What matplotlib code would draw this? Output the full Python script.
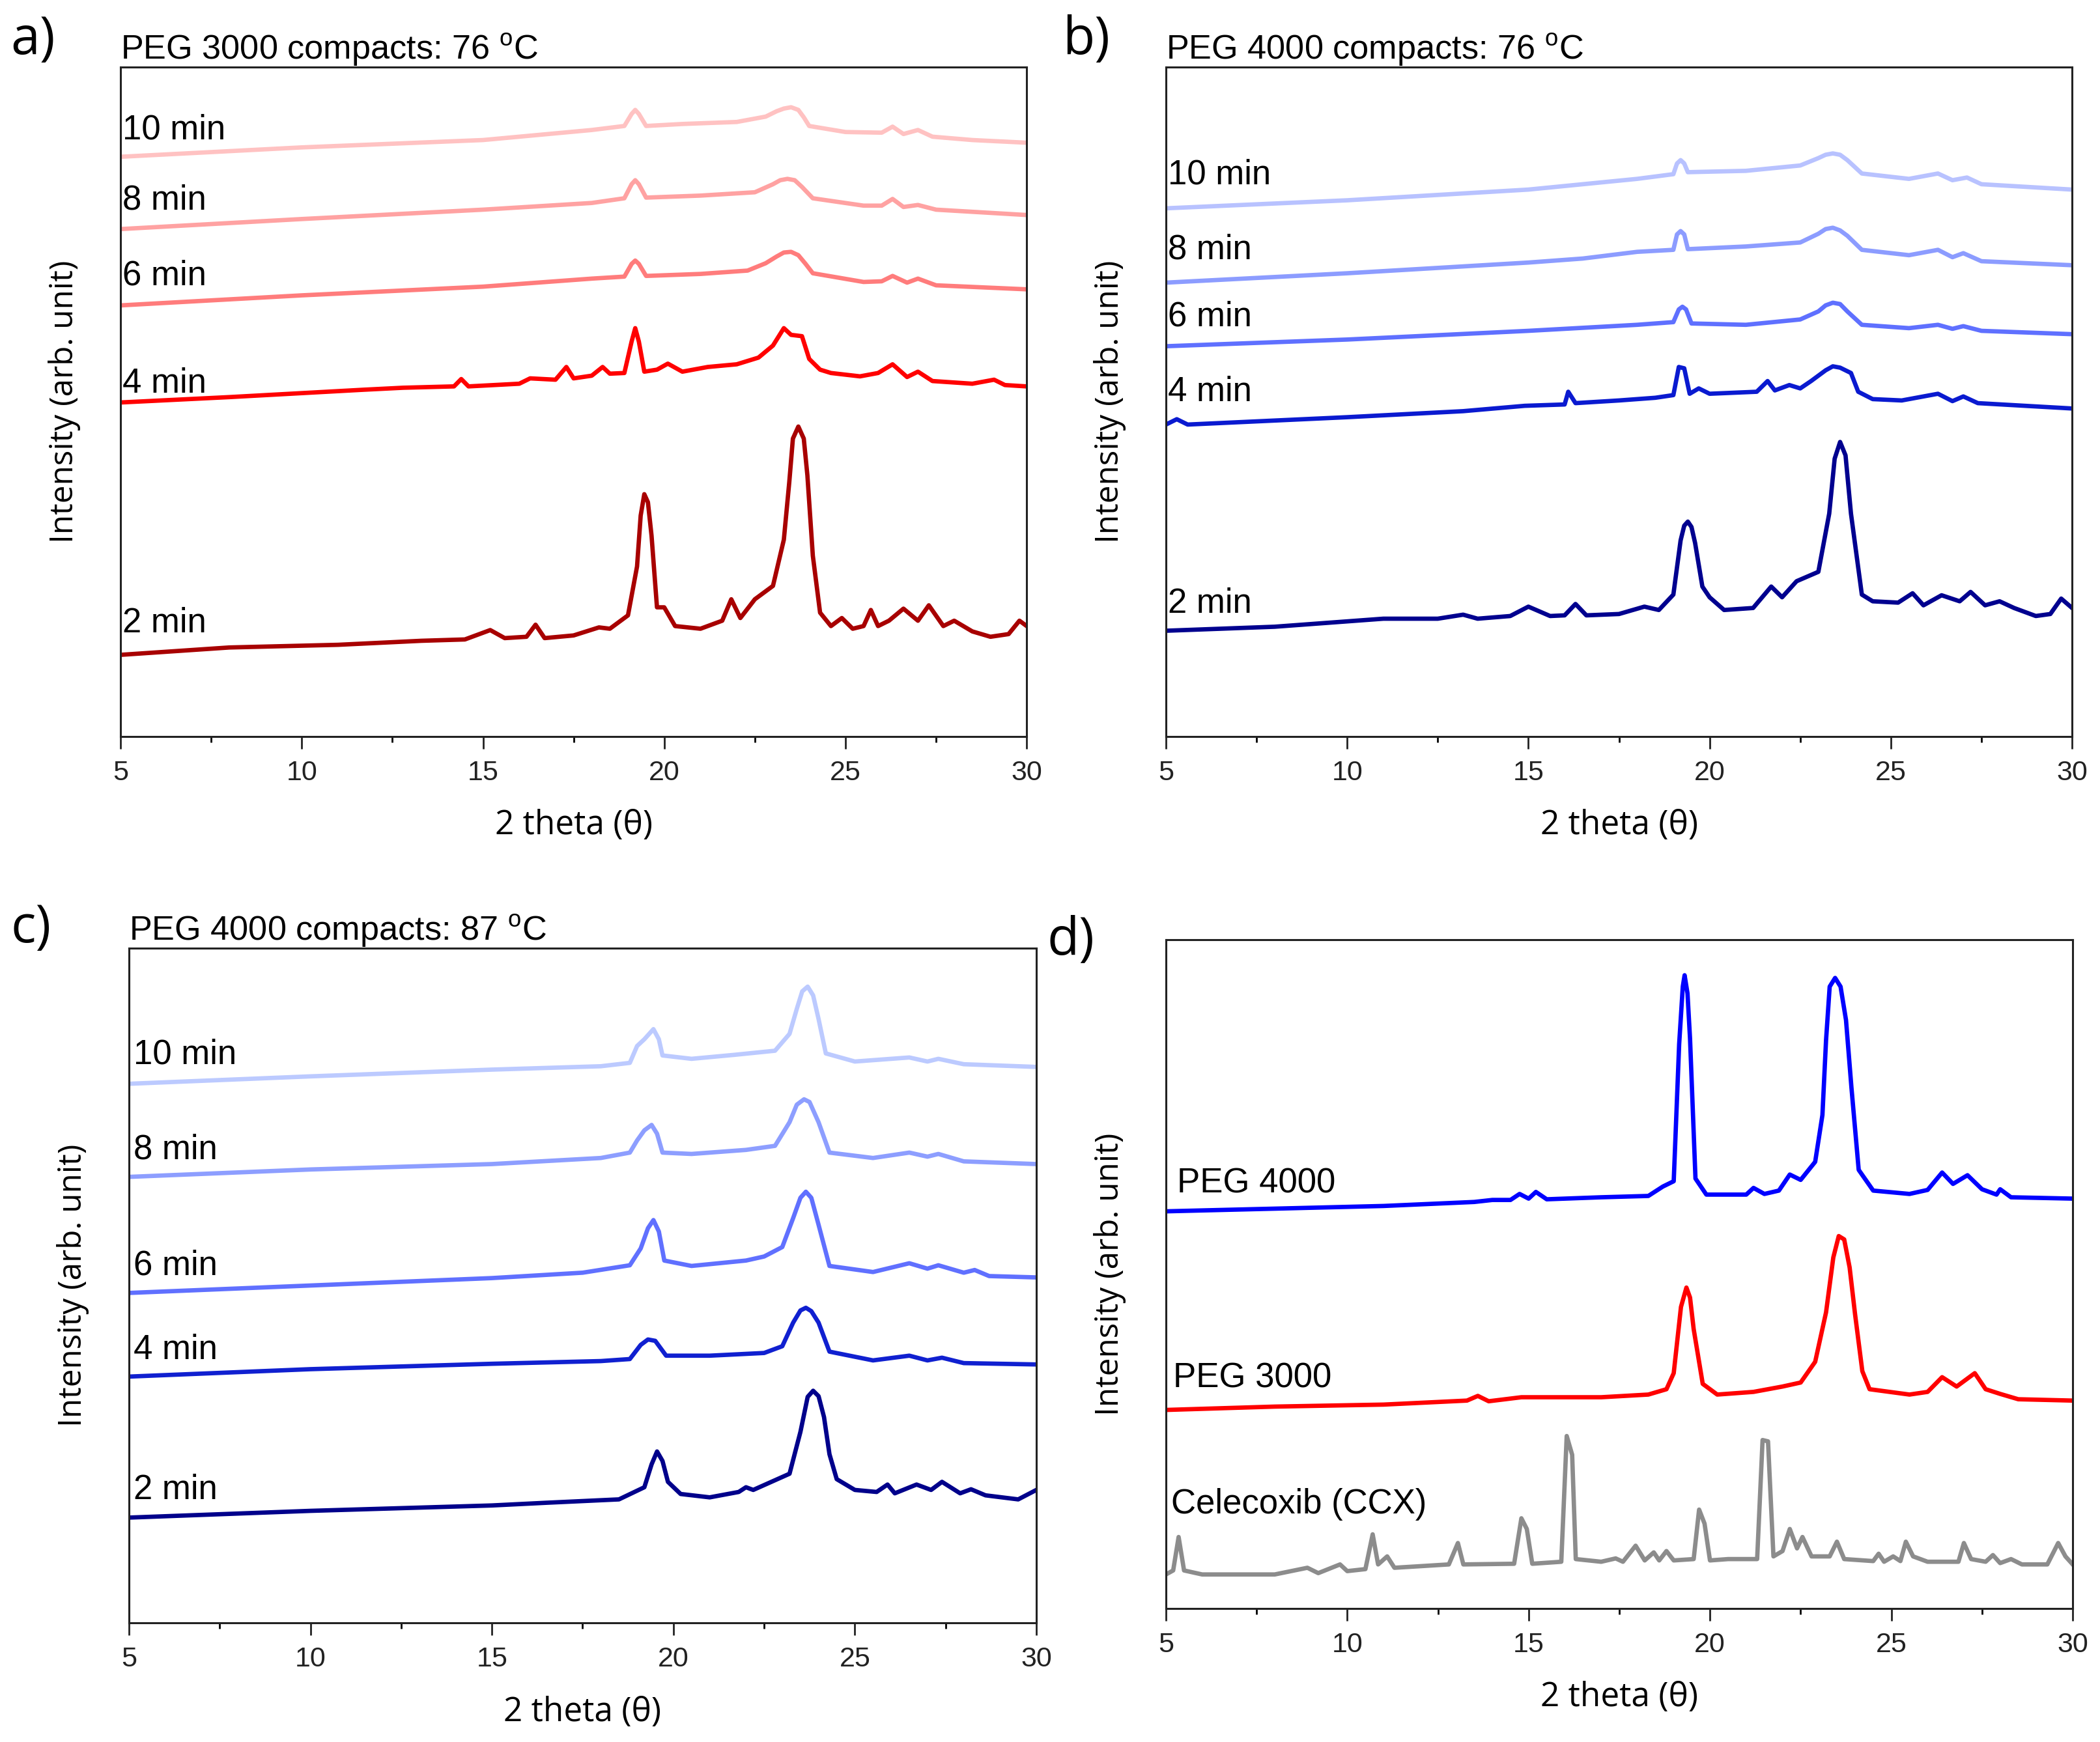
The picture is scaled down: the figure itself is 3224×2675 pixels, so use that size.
import numpy as np
import matplotlib.pyplot as plt
from matplotlib.ticker import MultipleLocator

# ---- panel a: PEG 3000, 76 C (2theta, intensity in arb. units, 0-100 = axis height)
a10_x = [5, 10, 15, 18, 18.9, 19.1, 19.2, 19.3, 19.5, 20.5, 22, 22.8, 23.1, 23.3, 23.5, 23.7, 23.85, 24.0, 25, 26.0, 26.3, 26.6, 27.0, 27.4, 28.5, 30]
a10_y = [86.6, 88.0, 89.1, 90.6, 91.2, 93.0, 93.6, 93.0, 91.2, 91.5, 91.8, 92.6, 93.4, 93.8, 94.0, 93.6, 92.5, 91.2, 90.3, 90.2, 91.1, 90.0, 90.6, 89.6, 89.1, 88.7]
a8_x = [5, 10, 15, 18, 18.9, 19.1, 19.2, 19.3, 19.5, 21, 22.5, 23.0, 23.2, 23.4, 23.6, 23.8, 24.1, 25.5, 26.0, 26.3, 26.6, 27.0, 27.5, 30]
a8_y = [75.8, 77.3, 78.7, 79.7, 80.4, 82.5, 83.1, 82.5, 80.5, 80.8, 81.3, 82.5, 83.1, 83.3, 83.1, 82.1, 80.4, 79.3, 79.3, 80.3, 79.1, 79.4, 78.7, 77.9]
a6_x = [5, 10, 15, 18, 18.9, 19.1, 19.2, 19.3, 19.5, 21, 22.3, 22.8, 23.1, 23.3, 23.5, 23.7, 23.9, 24.1, 25.5, 26.0, 26.3, 26.7, 27.0, 27.5, 30]
a6_y = [64.4, 65.9, 67.2, 68.4, 68.7, 70.6, 71.1, 70.6, 68.8, 69.1, 69.6, 70.7, 71.7, 72.3, 72.4, 71.9, 70.6, 69.2, 67.9, 68.0, 68.8, 67.8, 68.4, 67.4, 66.8]
a4_x = [5, 8, 11.7, 12.8, 14.2, 14.4, 14.6, 16.0, 16.3, 17.0, 17.3, 17.5, 18.0, 18.3, 18.5, 18.9, 19.1, 19.2, 19.3, 19.45,
        19.8, 20.1, 20.5, 21.2, 22.0, 22.6, 23.0, 23.3, 23.5, 23.8, 24.0, 24.3, 24.6, 25.4, 25.9, 26.3, 26.7,
        27.0, 27.4, 28.5, 29.1, 29.4, 30]
a4_y = [49.9, 50.7, 51.8, 52.1, 52.3, 53.4, 52.3, 52.7, 53.5, 53.3, 55.2, 53.5, 53.9, 55.2, 54.2, 54.3, 59.0, 61.0, 59.0, 54.5,
        54.8, 55.7, 54.5, 55.2, 55.6, 56.6, 58.4, 61.0, 60.0, 59.8, 56.4, 54.8, 54.3, 53.8, 54.3, 55.6, 53.7,
        54.5, 53.1, 52.7, 53.3, 52.5, 52.3]
a2_x = [5, 8, 11, 13.3, 14.5, 15.2, 15.6, 16.2, 16.45, 16.7, 17.5, 18.2, 18.5, 19.0, 19.25, 19.35, 19.45, 19.55, 19.65, 19.8,
        20.0, 20.3, 21.0, 21.6, 21.85, 22.1, 22.5, 23.0, 23.3, 23.45, 23.55, 23.7, 23.85, 23.95, 24.1, 24.3, 24.6, 24.9, 25.2,
        25.5, 25.7, 25.9, 26.2, 26.6, 27.0, 27.3, 27.7, 28.0, 28.5, 29.0, 29.5, 29.8, 30]
a2_y = [12.2, 13.3, 13.7, 14.3, 14.5, 15.9, 14.7, 14.9, 16.7, 14.7, 15.1, 16.3, 16.1, 18.1, 25.4, 33.0, 36.2, 35.0, 30.0, 19.3,
        19.3, 16.5, 16.1, 17.3, 20.5, 17.7, 20.5, 22.5, 29.4, 38.0, 44.5, 46.3, 44.5, 39.0, 27.0, 18.5, 16.5, 17.7, 16.1,
        16.5, 18.9, 16.5, 17.3, 19.1, 17.3, 19.6, 16.5, 17.3, 15.7, 14.9, 15.3, 17.3, 16.5]

# ---- panel b: PEG 4000, 76 C
b10_x = [5, 10, 15, 18, 19.0, 19.1, 19.2, 19.3, 19.4, 21, 22.5, 23.0, 23.2, 23.4, 23.6, 23.8, 24.2, 25.5, 26.3, 26.7, 27.1, 27.5, 30]
b10_y = [78.9, 80.1, 81.7, 83.3, 84.0, 85.6, 86.1, 85.6, 84.3, 84.5, 85.3, 86.4, 86.9, 87.1, 86.9, 86.1, 84.1, 83.3, 84.1, 83.1, 83.5, 82.5, 81.7]
b8_x = [5, 10, 15, 16.5, 18, 19.0, 19.1, 19.2, 19.3, 19.4, 21, 22.5, 23.0, 23.2, 23.4, 23.6, 23.8, 24.2, 25.5, 26.3, 26.7, 27.0, 27.5, 30]
b8_y = [67.8, 69.2, 70.8, 71.4, 72.4, 72.7, 75.0, 75.5, 75.0, 72.8, 73.2, 73.8, 75.1, 75.8, 76.0, 75.6, 74.8, 72.7, 71.9, 72.7, 71.6, 72.2, 71.0, 70.4]
b6_x = [5, 10, 15, 18, 19.0, 19.15, 19.25, 19.35, 19.5, 21, 22.5, 23.0, 23.2, 23.4, 23.6, 23.8, 24.2, 25.5, 26.3, 26.7, 27.0, 27.5, 30]
b6_y = [58.3, 59.3, 60.6, 61.5, 61.9, 63.8, 64.2, 63.8, 61.7, 61.5, 62.3, 63.5, 64.4, 64.8, 64.6, 63.5, 61.5, 61.0, 61.5, 60.9, 61.3, 60.6, 60.1]
b4_x = [5, 5.3, 5.6, 10, 13.2, 14.9, 16.0, 16.1, 16.3, 17.5, 18.5, 19.0, 19.15, 19.3, 19.45, 19.7, 20.0, 21.3,
        21.6, 21.8, 22.2, 22.5, 22.8, 23.2, 23.4, 23.6, 23.9, 24.1, 24.5, 25.3, 26.3, 26.7, 27.0, 27.4, 30]
b4_y = [46.6, 47.4, 46.6, 47.7, 48.6, 49.4, 49.6, 51.5, 49.8, 50.2, 50.6, 51.0, 55.2, 55.0, 51.2, 52.0, 51.2, 51.5,
        53.1, 51.7, 52.5, 52.0, 53.1, 54.7, 55.3, 55.1, 54.3, 51.5, 50.4, 50.2, 51.2, 50.1, 50.8, 49.8, 49.0]
b2_x = [5, 8, 11, 12.5, 13.2, 13.6, 14.5, 15.0, 15.6, 16.0, 16.3, 16.6, 17.5, 18.2, 18.6, 19.0, 19.2, 19.3, 19.4, 19.5, 19.6,
        19.8, 20.0, 20.4, 21.2, 21.7, 22.0, 22.4, 23.0, 23.3, 23.45, 23.6, 23.75, 23.9, 24.2, 24.5, 25.2, 25.6, 25.9,
        26.4, 26.9, 27.2, 27.6, 28.0, 28.4, 29.0, 29.4, 29.7, 30]
b2_y = [15.8, 16.4, 17.6, 17.6, 18.2, 17.6, 18.0, 19.4, 18.0, 18.1, 19.8, 18.1, 18.3, 19.4, 18.9, 21.2, 29.3, 31.5, 32.1, 31.3, 28.9,
        22.4, 20.8, 18.9, 19.2, 22.4, 20.8, 23.2, 24.6, 33.3, 41.5, 44.0, 42.0, 33.3, 21.2, 20.2, 20.0, 21.4, 19.6,
        21.1, 20.2, 21.6, 19.6, 20.2, 19.2, 18.0, 18.3, 20.6, 19.2]

# ---- panel c: PEG 4000, 87 C
c10_x = [5, 10, 15, 18, 18.8, 19.0, 19.2, 19.45, 19.6, 19.7, 20.5, 21.7, 22.8, 23.2, 23.4, 23.55, 23.7, 23.85, 24.0, 24.2, 25.0, 26.5, 27.0, 27.3, 28.0, 30]
c10_y = [79.9, 81.0, 82.0, 82.5, 83.0, 85.5, 86.5, 88.0, 86.5, 84.1, 83.6, 84.2, 84.8, 87.3, 91.0, 93.6, 94.3, 93.0, 89.5, 84.4, 83.2, 83.8, 83.2, 83.6, 82.8, 82.4]
c8_x = [5, 10, 15, 18, 18.8, 19.0, 19.2, 19.4, 19.55, 19.7, 20.5, 22, 22.8, 23.2, 23.4, 23.6, 23.75, 24.0, 24.3, 25.5, 26.5, 27.0, 27.3, 28.0, 30]
c8_y = [66.1, 67.2, 68.0, 68.9, 69.7, 71.5, 73.0, 73.8, 72.5, 69.7, 69.5, 70.1, 70.7, 74.2, 76.8, 77.6, 77.2, 74.2, 69.7, 68.9, 69.7, 69.1, 69.5, 68.4, 68.0]
c6_x = [5, 10, 15, 17.5, 18.8, 19.1, 19.3, 19.45, 19.6, 19.75, 20.5, 22.0, 22.5, 23.0, 23.3, 23.5, 23.65, 23.8, 24.0, 24.3, 25.5, 26.5,
        27.0, 27.3, 28.0, 28.3, 28.7, 30]
c6_y = [48.9, 50.0, 51.1, 51.9, 53.0, 55.5, 58.5, 59.7, 58.0, 53.7, 52.9, 53.7, 54.3, 55.7, 60.0, 63.0, 63.9, 63.0, 59.0, 52.9, 52.0, 53.3,
        52.5, 53.0, 51.9, 52.3, 51.4, 51.2]
c4_x = [5, 10, 15, 18, 18.8, 19.1, 19.3, 19.5, 19.8, 21, 22.5, 23.0, 23.3, 23.5, 23.65, 23.8, 24.0, 24.3, 25.5, 26.5, 27.0, 27.4, 28.0, 30]
c4_y = [36.5, 37.6, 38.4, 38.8, 39.1, 41.2, 42.0, 41.8, 39.6, 39.6, 40.0, 41.0, 44.5, 46.3, 46.7, 46.2, 44.5, 40.2, 38.9, 39.6, 38.9, 39.3, 38.5, 38.3]
c2_x = [5, 10, 15, 16.5, 18.5, 19.2, 19.4, 19.55, 19.7, 19.85, 20.2, 21.0, 21.8, 22.0, 22.2, 22.7, 23.2, 23.5, 23.7, 23.85,
        24.0, 24.15, 24.3, 24.5, 25.0, 25.6, 25.9, 26.1, 26.7, 27.1, 27.4, 27.9, 28.2, 28.6, 29.5, 30]
c2_y = [15.6, 16.6, 17.4, 17.8, 18.3, 20.1, 23.5, 25.4, 24.0, 20.9, 19.1, 18.6, 19.4, 20.1, 19.7, 20.9, 22.1, 28.3, 33.5, 34.4,
        33.6, 30.5, 25.0, 21.3, 19.7, 19.4, 20.5, 19.2, 20.5, 19.7, 20.9, 19.2, 19.8, 18.9, 18.3, 19.7]

# ---- panel d: references
peg4_x = [5, 8, 11, 13.5, 14.0, 14.5, 14.75, 15.0, 15.2, 15.5, 17, 18.3, 18.7, 19.0, 19.15, 19.25, 19.3, 19.38, 19.45, 19.6,
          19.9, 21.0, 21.2, 21.5, 21.9, 22.2, 22.5, 22.9, 23.1, 23.2, 23.3, 23.45, 23.6, 23.75, 23.9, 24.1, 24.5, 25.5, 26.0,
          26.4, 26.7, 27.1, 27.5, 27.9, 28.0, 28.3, 30]
peg4_y = [59.4, 59.8, 60.2, 60.8, 61.1, 61.1, 62.0, 61.3, 62.3, 61.2, 61.5, 61.7, 63.1, 63.9, 84.4, 93.0, 94.7, 92.0, 85.2, 64.3,
          61.9, 61.9, 62.9, 62.0, 62.5, 64.9, 64.1, 66.8, 73.8, 85.0, 93.0, 94.3, 93.0, 88.0, 77.9, 65.6, 62.5, 62.0, 62.6,
          65.2, 63.5, 64.8, 62.7, 61.9, 62.7, 61.5, 61.3]
peg3_x = [5, 8, 11, 13.3, 13.6, 13.9, 14.8, 15.3, 17, 18.3, 18.8, 19.0, 19.2, 19.35, 19.45, 19.55, 19.8, 20.2, 21.2,
          22.0, 22.5, 22.9, 23.2, 23.4, 23.55, 23.7, 23.85, 24.0, 24.2, 24.4, 25.5, 26.0, 26.4, 26.8, 27.3, 27.6, 28.0, 28.5, 30]
peg3_y = [29.7, 30.2, 30.5, 31.1, 31.8, 31.0, 31.6, 31.6, 31.6, 32.0, 32.8, 35.2, 45.1, 48.0, 46.5, 41.8, 33.6, 32.0, 32.4,
          33.2, 33.8, 36.9, 44.3, 52.5, 55.7, 55.2, 51.0, 44.0, 35.5, 32.8, 32.0, 32.4, 34.6, 33.2, 35.2, 32.8, 32.1, 31.3, 31.1]
ccx_x = [5.0, 5.2, 5.35, 5.5, 6.0, 8.0, 8.9, 9.2, 9.8, 10.0, 10.5, 10.7, 10.85, 11.1, 11.3, 12.8, 13.05, 13.2,
         14.6, 14.8, 14.95, 15.1, 15.9, 16.05, 16.2, 16.3, 17.0, 17.4, 17.6, 17.95, 18.2, 18.45, 18.6, 18.8, 19.0,
         19.55, 19.7, 19.85, 20.0, 20.5, 21.3, 21.45, 21.6, 21.75, 22.0, 22.2, 22.4, 22.55, 22.8, 23.3, 23.5,
         23.7, 24.5, 24.65, 24.8, 25.05, 25.25, 25.4, 25.6, 26.0, 26.85, 27.0, 27.2, 27.6, 27.8, 28.0, 28.3,
         28.6, 29.3, 29.6, 29.8, 30]
ccx_y = [5.1, 5.7, 10.7, 5.7, 5.1, 5.1, 6.1, 5.3, 6.6, 5.6, 5.9, 11.1, 6.6, 7.8, 6.1, 6.6, 9.8, 6.6,
         6.7, 13.5, 11.9, 6.7, 7.0, 25.8, 23.0, 7.4, 7.0, 7.5, 7.0, 9.4, 7.2, 8.4, 7.2, 8.6, 7.2,
         7.4, 14.8, 12.7, 7.2, 7.4, 7.4, 25.2, 25.0, 7.8, 8.6, 11.9, 9.0, 10.7, 7.8, 7.8, 10.0,
         7.4, 7.1, 8.2, 7.0, 7.8, 7.1, 10.0, 7.8, 7.0, 7.0, 9.8, 7.4, 7.0, 8.0, 6.8, 7.4,
         6.6, 6.6, 9.8, 7.8, 6.6]

time_labels = ["10 min", "8 min", "6 min", "4 min", "2 min"]
a_label_y = [90.6, 80.1, 68.8, 52.7, 16.9]
b_label_y = [83.9, 72.7, 62.7, 51.5, 19.8]
c_label_y = [84.2, 70.1, 52.9, 40.4, 19.7]
d_labels = ["PEG 4000", "PEG 3000", "Celecoxib (CCX)"]
d_label_y = [63.5, 34.4, 15.6]

red_cols = ["#ffc2c2", "#ffa2a2", "#ff7c7c", "#ff0000", "#a80000"]
blue_cols_b = ["#b8c2ff", "#8c9cff", "#5f70ff", "#0a1ad0", "#00008f"]
blue_cols_c = ["#bccaff", "#8d9eff", "#6070ff", "#1020d0", "#00008b"]
d_cols = ["#0000ff", "#ff0000", "#8c8c8c"]

W, H = 3224, 2675
DPI = 200
fig = plt.figure(figsize=(W / DPI, H / DPI), dpi=DPI)

txt_font = ["Liberation Sans", "DejaVu Sans"]
lab_font = ["Open Sans", "DejaVu Sans"]
plt.rcParams["mathtext.fontset"] = "custom"
plt.rcParams["mathtext.rm"] = "Liberation Sans"


def make_ax(rect, title):
    ax = fig.add_axes(rect)
    ax.set_xlim(5, 30)
    ax.set_ylim(0, 100)
    ax.set_yticks([])
    ax.xaxis.set_major_locator(MultipleLocator(5))
    ax.xaxis.set_minor_locator(MultipleLocator(2.5))
    ax.tick_params(axis="x", which="major", direction="out", length=6.8, width=1.0, pad=6,
                   labelsize=15.5, colors="#222222")
    ax.tick_params(axis="x", which="minor", direction="out", length=3.3, width=1.0)
    for lab in ax.get_xticklabels():
        lab.set_family(txt_font)
    for sp in ax.spines.values():
        sp.set_linewidth(1.1)
        sp.set_color("#222222")
    ax.set_xlabel("2 theta (\u03b8)", family=lab_font, fontsize=18.5)
    ax.xaxis.set_label_coords(0.5, -0.133)
    ax.xaxis.label.set_va("center")
    ax.set_ylabel("Intensity (arb. unit)", family=lab_font, fontsize=17.8)
    ax.yaxis.set_label_coords(-0.062, 0.5)
    ax.yaxis.label.set_va("center")
    ax.text(0.0, 1.012, title, transform=ax.transAxes, ha="left", va="baseline",
            fontsize=18.8, family=txt_font)
    return ax


lw = 2.4

ax_a = make_ax([0.0574, 0.5772, 0.4315, 0.3843], r"PEG 3000 compacts: 76 $^\mathregular{o}$C")
for (xs, ys), col in zip([(a10_x, a10_y), (a8_x, a8_y), (a6_x, a6_y), (a4_x, a4_y), (a2_x, a2_y)], red_cols):
    ax_a.plot(xs, ys, color=col, lw=lw)
for lab, yy in zip(time_labels, a_label_y):
    ax_a.text(5.05, yy, lab, fontsize=19, family=txt_font, va="center", ha="left")

ax_b = make_ax([0.5552, 0.5772, 0.4315, 0.3843], r"PEG 4000 compacts: 76 $^\mathregular{o}$C")
for (xs, ys), col in zip([(b10_x, b10_y), (b8_x, b8_y), (b6_x, b6_y), (b4_x, b4_y), (b2_x, b2_y)], blue_cols_b):
    ax_b.plot(xs, ys, color=col, lw=lw)
for lab, yy in zip(time_labels, b_label_y):
    ax_b.text(5.05, yy, lab, fontsize=19, family=txt_font, va="center", ha="left")

ax_c = make_ax([0.0614, 0.0684, 0.4321, 0.3873], r"PEG 4000 compacts: 87 $^\mathregular{o}$C")
for (xs, ys), col in zip([(c10_x, c10_y), (c8_x, c8_y), (c6_x, c6_y), (c4_x, c4_y), (c2_x, c2_y)], blue_cols_c):
    ax_c.plot(xs, ys, color=col, lw=lw)
for lab, yy in zip(time_labels, c_label_y):
    ax_c.text(5.12, yy, lab, fontsize=19, family=txt_font, va="center", ha="left")

ax_d = make_ax([0.5552, 0.0766, 0.4318, 0.3839], "")
for (xs, ys), col in zip([(peg4_x, peg4_y), (peg3_x, peg3_y), (ccx_x, ccx_y)], d_cols):
    ax_d.plot(xs, ys, color=col, lw=lw)
for lab, yy, xx in zip(d_labels, d_label_y, [5.3, 5.2, 5.15]):
    ax_d.text(xx, yy, lab, fontsize=19, family=txt_font, va="center", ha="left")

for lab, x, y in [("a)", 0.005, 0.977), ("b)", 0.506, 0.977), ("c)", 0.005, 0.467), ("d)", 0.4985, 0.460)]:
    fig.text(x, y, lab, fontsize=29, family=lab_font, ha="left", va="center")

fig.savefig("out.png", dpi=DPI)
